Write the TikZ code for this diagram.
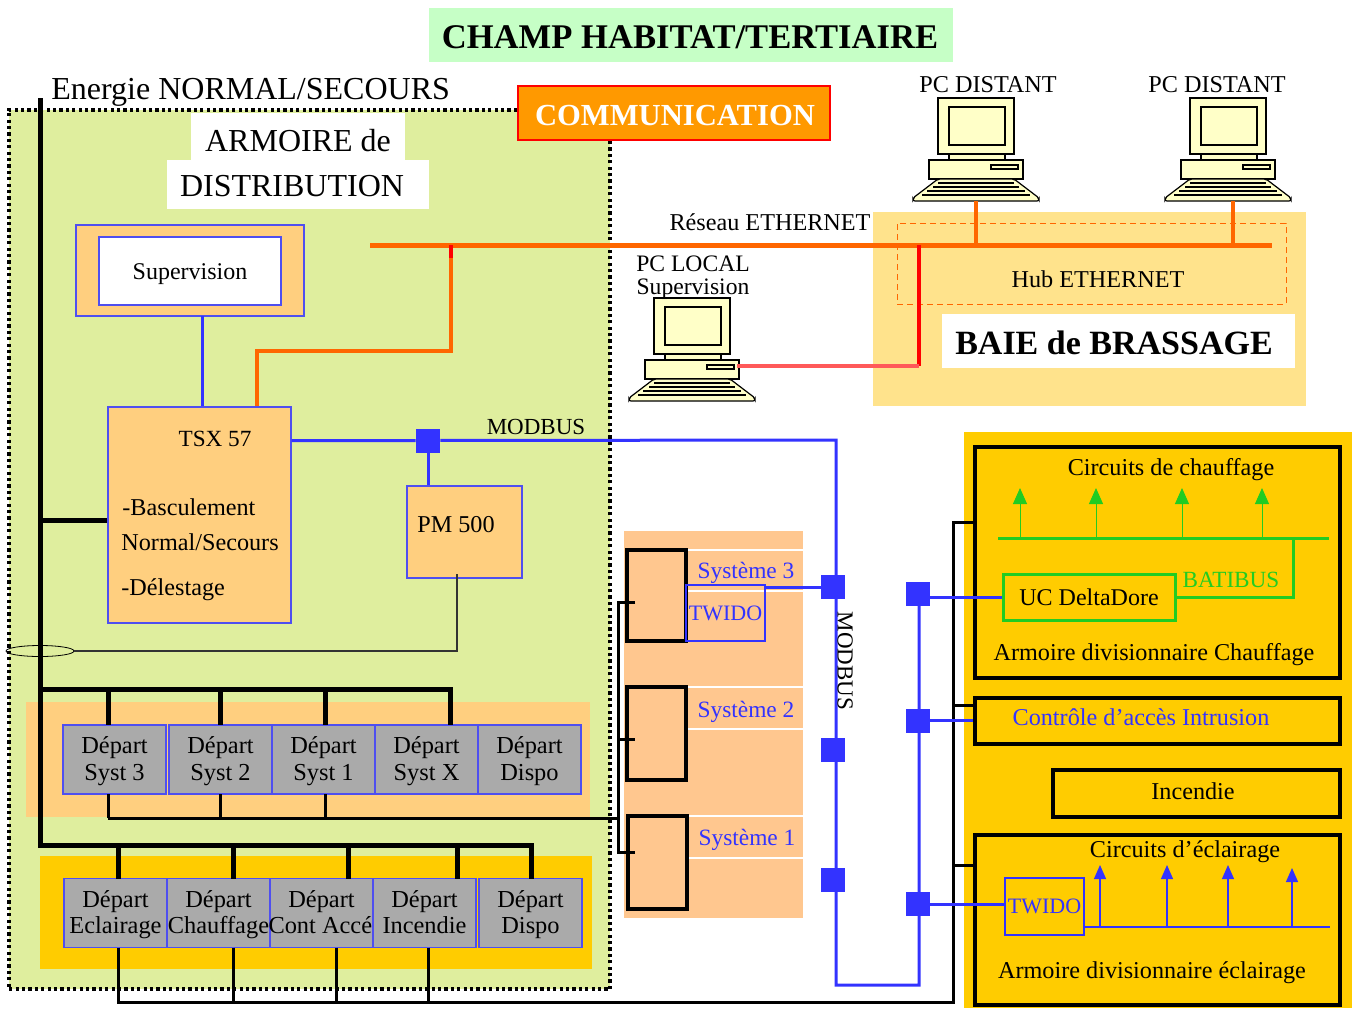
\documentclass[tikz,border=0pt]{standalone}
\usepackage{fontspec}
\setmainfont{Liberation Serif}
\usepackage{xcolor}
\usetikzlibrary{arrows.meta,positioning,shapes.geometric}
\definecolor{vertzone}{HTML}{DFEE9E}
\definecolor{vertitre}{HTML}{C6FFC6}
\definecolor{orclair}{HTML}{FFCF7F}
\definecolor{orfonce}{HTML}{FFCC00}
\definecolor{peche}{HTML}{FFC78F}
\definecolor{baie}{HTML}{FFE38C}
\definecolor{bleu}{HTML}{3333FF}
\definecolor{bleubord}{HTML}{4F4FF0}
\definecolor{orange}{HTML}{FF6600}
\definecolor{comfond}{HTML}{FF9900}
\definecolor{vertbus}{HTML}{22CC22}
\definecolor{gris}{HTML}{AAAAAA}
\definecolor{ecran}{HTML}{FFFFC8}
\newcommand{\fsz}[1]{\fontsize{#1}{#1}\selectfont}
\newcommand{\dep}[1]{\rule{0pt}{10.5pt}Départ\\[1pt]#1\rule[-3pt]{0pt}{3pt}}
\tikzset{
  pc/.pic={
    \draw[fill=ecran, line width=0.6pt] (-38,0) rectangle (38,56);
    \draw[fill=ecran, line width=0.6pt] (-27,9) rectangle (29,47);
    \draw[fill=ecran, line width=0.6pt] (-27,56) rectangle (29,62);
    \draw[fill=ecran, line width=0.6pt] (-47,62) rectangle (47,81);
    \draw[fill=ecran, line width=0.6pt] (15,67) rectangle (42,71);
    \draw[fill=ecran, line width=0.6pt, rounded corners=1pt] (-38,81) -- (38,81) -- (63,100) -- (63,103) -- (-63,103) -- (-63,100) -- cycle;
    \draw[line width=0.8pt] (-38,85) -- (38,85);
    \draw[line width=0.8pt] (-43,89) -- (43,89);
    \draw[line width=0.8pt] (-49,93) -- (49,93);
    \draw[line width=0.8pt] (-54,97) -- (54,97);
    \coordinate (-bas) at (0,103);
    \coordinate (-port) at (45,69);
  }
}
\begin{document}
\begin{tikzpicture}[x=0.5pt, y=-0.5pt,
  zonebox/.style={rectangle, inner sep=0pt},
  depart/.style={rectangle, draw=bleubord, fill=gris, line width=0.6pt, outer sep=0pt, inner sep=0pt, minimum width=51.5pt, minimum height=34.5pt, align=center, font=\fsz{12.2}},
  tbox/.style={rectangle, draw=bleubord, fill=orclair, line width=0.6pt, inner sep=0pt},
  cadre/.style={rectangle, draw=black, line width=2pt, inner sep=0pt},
  sysbox/.style={rectangle, draw=black, line width=2pt, fill=peche, inner sep=0pt, minimum width=29.5pt},
  sq/.style={rectangle, fill=bleu, inner sep=0pt, minimum width=12pt, minimum height=12pt},
  lbl/.style={inner sep=0pt, font=\fsz{12.1}},
  sys/.style={inner sep=0pt, font=\fsz{11.7}, text=bleu},
  power/.style={line width=2.5pt, black},
  feed/.style={line width=1.5pt, black},
  bus/.style={line width=1.5pt, bleu},
  eth/.style={line width=1.75pt, orange},
  green/.style={line width=1.5pt, vertbus},
  arrg/.style={-{Triangle[length=8pt,width=7pt]}, line width=0.5pt, vertbus},
  arrb/.style={-{Triangle[length=7pt,width=6pt]}, line width=0.6pt, bleu},
  dots/.style={line width=2pt, black, dash pattern=on 1.6pt off 1.6pt}
]
\useasboundingbox (0,0) rectangle (1356,1008);
% fonds
\node[zonebox, fill=vertitre, minimum width=262pt, minimum height=27pt] (titre) at (691,35) {};
\node[inner sep=0pt, font=\fsz{17.3}\bfseries] (titret) at (690,37) {CHAMP HABITAT/TERTIAIRE};
\node[zonebox, fill=vertzone, minimum width=300.5pt, minimum height=439.5pt] (zone) at (309.5,549.5) {};
\node[zonebox, fill=white, minimum width=107pt, minimum height=24pt] (arm1) at (298,137) {};
\node[zonebox, fill=white, minimum width=131pt, minimum height=24.5pt] (arm2) at (298,184.5) {};
\node[inner sep=0pt, font=\fsz{16}] (arm1t) at (298,141) {ARMOIRE de};
\node[inner sep=0pt, font=\fsz{16}] (arm2t) at (292,186.5) {DISTRIBUTION};
\node[zonebox, fill=baie, minimum width=216.5pt, minimum height=97pt] (baiefond) at (1089.5,309) {};
\node[zonebox, fill=orclair, minimum width=282pt, minimum height=57.5pt] (bandeA) at (308,759.5) {};
\node[zonebox, fill=orfonce, minimum width=276pt, minimum height=56.5pt] (bandeB) at (316,912.5) {};
\node[zonebox, fill=peche, minimum width=89.5pt, minimum height=193.5pt] (panneau) at (713.5,724.5) {};
\node[zonebox, fill=orfonce, minimum width=194pt, minimum height=288pt] (droite) at (1158,720) {};
% traits blancs du panneau
\coordinate (tw1) at (687,550);
\coordinate (tw2) at (687,591);
\coordinate (tw3) at (687,687);
\coordinate (tw4) at (687,729);
\coordinate (tw5) at (687,816);
\coordinate (tw6) at (687,858);
\draw[white, line width=0.6pt] (tw1) -- (tw1 -| panneau.east);
\draw[white, line width=0.6pt] (tw2) -- (tw2 -| panneau.east);
\draw[white, line width=0.6pt] (tw3) -- (tw3 -| panneau.east);
\draw[white, line width=0.6pt] (tw4) -- (tw4 -| panneau.east);
\draw[white, line width=0.6pt] (tw5) -- (tw5 -| panneau.east);
\draw[white, line width=0.6pt] (tw6) -- (tw6 -| panneau.east);
% armoire
\node[tbox, minimum width=114pt, minimum height=45.5pt] (supfond) at (190,270.5) {};
\node[rectangle, draw=bleubord, fill=white, line width=0.6pt, inner sep=0pt, minimum width=91pt, minimum height=34pt] (sup) at (190,271) {};
\node[inner sep=0pt, font=\fsz{12}] (supt) at (190,274) {Supervision};
\node[tbox, minimum width=91.5pt, minimum height=108pt] (tsx) at (199.5,515) {};
\node[lbl, font=\fsz{11.6}] (tsxt) at (215,439) {TSX 57};
\node[lbl, anchor=west] (tsx1) at (122,507) {-Basculement};
\node[lbl, anchor=west] (tsx2) at (121,542) {Normal/Secours};
\node[lbl, anchor=west] (tsx3) at (121,590) {-Délestage};
\node[tbox, minimum width=57.5pt, minimum height=46pt] (pm) at (464.5,532) {};
\node[lbl] (pmt) at (456,525) {PM 500};
\node[sq] (sqM) at (428,440.5) {};
% energie
\coordinate (en0) at (40,98);
\coordinate (en1) at (40,689);
\coordinate (en2) at (40,845);
\coordinate (en3) at (40,520);
\coordinate (dA1) at (108,689);
\coordinate (dA2) at (220,689);
\coordinate (dA3) at (325,689);
\coordinate (dA4) at (450,689);
\coordinate (dB1) at (118,845);
\coordinate (dB2) at (233,845);
\coordinate (dB3) at (348,845);
\coordinate (dB4) at (457,845);
\coordinate (dB5) at (531,845);
\node[depart] (dep1) at (114.5,759.5) {\dep{Syst 3}};
\node[depart, right=1.5pt of dep1] (dep2) {\dep{Syst 2}};
\node[depart, right=0pt of dep2] (dep3) {\dep{Syst 1}};
\node[depart, right=0pt of dep3] (dep4) {\dep{Syst X}};
\node[depart, right=0pt of dep4] (dep5) {\dep{Dispo}};
\node[depart] (dec1) at (115.5,913) {\dep{Eclairage}};
\node[depart, right=0pt of dec1] (dec2) {\dep{Chauffage}};
\node[depart, right=0pt of dec2] (dec3) {\dep{\makebox[51pt][l]{\hspace{-1pt}Cont Accés}}};
\node[depart, right=0pt of dec3] (dec4) {\dep{Incendie}};
\node[depart, right=1.5pt of dec4] (dec5) {\dep{Dispo}};
\draw[power] (en0) -- (en2) -- (dB5) -- (dB5 |- dec5.north);
\draw[power] (en1) -- (dA4) -- (dA4 |- dep4.north);
\draw[power] (en3) -- (en3 -| tsx.west);
\draw[power] (dA1) -- (dA1 |- dep1.north);
\draw[power] (dA2) -- (dA2 |- dep2.north);
\draw[power] (dA3) -- (dA3 |- dep3.north);
\draw[power] (dB1) -- (dB1 |- dec1.north);
\draw[power] (dB2) -- (dB2 |- dec2.north);
\draw[power] (dB3) -- (dB3 |- dec3.north);
\draw[power] (dB4) -- (dB4 |- dec4.north);
% systemes
\node[sysbox, minimum height=45.5pt] (s3) at (656.5,595.5) {};
\node[sysbox, minimum height=46.5pt] (s2) at (656.5,733.5) {};
\node[sysbox, minimum height=46.5pt] (s1) at (657.5,862.5) {};
\node[sys] (s3t) at (746,573) {Système 3};
\node[sys] (s2t) at (746,711.5) {Système 2};
\node[sys] (s1t) at (747,839.5) {Système 1};
\node[rectangle, draw=bleu, line width=0.7pt, inner sep=0pt, minimum width=39.5pt, minimum height=28pt, font=\fsz{11}, text=bleu] (twA) at (725.5,613) {TWIDO};
\coordinate (sb0) at (618,602);
\coordinate (sb1) at (618,739);
\coordinate (sb2) at (618,818);
\coordinate (sb3) at (618,852);
\coordinate (st0) at (635,602);
\coordinate (st1) at (635,739);
\coordinate (st3) at (635,852);
\coordinate (sA1) at (108,818);
\coordinate (sA2) at (220,818);
\coordinate (sA3) at (325,818);
\draw[feed] (st0) -- (sb0) -- (sb3) -- (st3);
\draw[feed] (sb1) -- (st1);
\draw[feed] (sA1) -- (sb2);
\draw[feed] (dep1.south -| sA1) -- (sA1);
\draw[feed] (dep2.south -| sA2) -- (sA2);
\draw[feed] (dep3.south -| sA3) -- (sA3);
% droite
\node[cadre, minimum width=182.5pt, minimum height=115.5pt] (chauf) at (1157.5,562.5) {};
\node[cadre, minimum width=182.5pt, minimum height=23pt] (ctrl) at (1157.5,721) {};
\node[cadre, minimum width=143.5pt, minimum height=23.5pt] (incend) at (1196.5,793.5) {};
\node[cadre, minimum width=182.5pt, minimum height=85pt] (eclair) at (1157.5,920) {};
\node[lbl] (ct1) at (1171,470) {Circuits de chauffage};
\node[lbl] (ct2) at (1154,655) {Armoire divisionnaire Chauffage};
\node[lbl, text=bleu] (ctt) at (1141,717) {Contrôle d’accès Intrusion};
\node[lbl] (inct) at (1193,791) {Incendie};
\node[lbl] (et1) at (1185,852) {Circuits d’éclairage};
\node[lbl] (et2) at (1152,973) {Armoire divisionnaire éclairage};
\node[rectangle, draw=vertbus, line width=1.5pt, inner sep=0pt, minimum width=86pt, minimum height=23pt, font=\fsz{12}] (ucd) at (1089,597) {UC DeltaDore};
\node[lbl, text=vertbus, font=\fsz{11.6}] (batit) at (1231,580) {BATIBUS};
\node[rectangle, draw=bleu, line width=0.7pt, inner sep=0pt, minimum width=39.5pt, minimum height=28.5pt, font=\fsz{11}, text=bleu] (twB) at (1044.5,906.5) {TWIDO};
\coordinate (gb0) at (998,538);
\coordinate (gb1) at (1329,538);
\coordinate (gb2) at (1293,538);
\coordinate (ga1) at (1020,488);
\coordinate (ga2) at (1096,488);
\coordinate (ga3) at (1182,488);
\coordinate (ga4) at (1262,488);
\draw[green] (gb0) -- (gb1);
\draw[green] (gb2) -- (gb2 |- ucd.east) -- (ucd.east);
\draw[arrg] (ga1 |- gb0) -- (ga1);
\draw[arrg] (ga2 |- gb0) -- (ga2);
\draw[arrg] (ga3 |- gb0) -- (ga3);
\draw[arrg] (ga4 |- gb0) -- (ga4);
\coordinate (bb1) at (1330,927);
\coordinate (ba1) at (1100,865);
\coordinate (ba2) at (1167,865);
\coordinate (ba3) at (1228,865);
\coordinate (ba4) at (1292,868);
\draw[line width=0.7pt, bleu] (bb1 -| twB.east) -- (bb1);
\draw[arrb] (ba1 |- bb1) -- (ba1);
\draw[arrb] (ba2 |- bb1) -- (ba2);
\draw[arrb] (ba3 |- bb1) -- (ba3);
\draw[arrb] (ba4 |- bb1) -- (ba4);
\coordinate (fd0) at (118,1002);
\coordinate (fd1) at (233,1002);
\coordinate (fd2) at (336,1002);
\coordinate (fd3) at (428,1002);
\coordinate (fd4) at (953,1002);
\coordinate (fd5) at (953,522);
\coordinate (fd6) at (953,705);
\coordinate (fd7) at (953,865);
\draw[feed] (dec1.south -| fd0) -- (fd0) -- (fd4) -- (fd5) -- (fd5 -| chauf.west);
\draw[feed] (dec2.south -| fd1) -- (fd1);
\draw[feed] (dec3.south -| fd2) -- (fd2);
\draw[feed] (dec4.south -| fd3) -- (fd3);
\draw[feed] (fd6) -- (fd6 -| ctrl.west);
\draw[feed] (fd7) -- (fd7 -| eclair.west);
% modbus
\node[sq] (sqL3) at (833,587) {};
\node[sq] (sqL2) at (833,749.5) {};
\node[sq] (sqL1) at (833,879.5) {};
\node[sq] (sqR1) at (918,594) {};
\node[sq] (sqR2) at (918,720.5) {};
\node[sq] (sqR3) at (918,904) {};
\coordinate (busA) at (836,440);
\coordinate (busB) at (836,985);
\coordinate (busC) at (919,985);
\coordinate (busS) at (202,316);
\draw[bus] (tsx.east |- sqM) -- (sqM) -- (busA) -- (busB) -- (busC) -- (busC |- sqR1);
\draw[bus] (sqM) -- (sqM |- pm.north);
\draw[bus] (busS) -- (busS |- tsx.north);
\draw[bus] (twA.north east |- sqL3) -- (sqL3);
\draw[bus] (ucd.west -| sqR1) -- (ucd.west);
\draw[bus] (sqR2) -- (sqR2 -| ctrl.west);
\draw[bus] (sqR3) -- (sqR3 -| twB.west);
\node[lbl, font=\fsz{11.5}] (modh) at (536,427) {MODBUS};
\node[lbl, rotate=-90, font=\fsz{11.5}] (modv) at (845,661) {MODBUS};
% delestage
\node[ellipse, draw=black, line width=0.4pt, inner sep=0pt, minimum width=34pt, minimum height=5.5pt] (tore) at (40,651) {};
\coordinate (pmd) at (457,574);
\draw[line width=0.6pt, black!80] (pmd) -- (pmd |- tore.east) -- (tore.east);
% pointilles et communication
\node[rectangle, draw=red, line width=1pt, fill=comfond, minimum width=156pt, minimum height=27pt, inner sep=0pt] (comm) at (674,113) {};
\node[inner sep=0pt, text=white, font=\fsz{15.3}\bfseries] (commt) at (675,116) {COMMUNICATION};
\draw[dots] (zone.north east -| comm.west) -- (zone.north west) -- (zone.south west) -- (zone.south east) -- (zone.east |- comm.south);
% ethernet
\node[rectangle, draw=orange, line width=0.5pt, densely dashed, minimum width=194.5pt, minimum height=40.5pt, inner sep=0pt] (hub) at (1091.5,263.5) {};
\node[lbl] (hubt) at (1098,279) {Hub ETHERNET};
\node[zonebox, fill=white, minimum width=176.5pt, minimum height=27pt] (baiet) at (1118.5,341) {};
\node[inner sep=0pt, font=\fsz{17}\bfseries] (baiex) at (1114,343) {BAIE de BRASSAGE};
\pic (pcA) at (976,98) {pc};
\pic (pcB) at (1228,98) {pc};
\pic (pcC) at (692,298) {pc};
\node[lbl] (pcAt) at (988,85) {PC DISTANT};
\node[lbl] (pcBt) at (1217,85) {PC DISTANT};
\node[lbl, align=center, font=\fontsize{11.8}{11.5}\selectfont] (pcCt) at (693,278) {PC LOCAL\\Supervision};
\node[lbl] (rest) at (770,222) {Réseau ETHERNET};
\coordinate (et0) at (370,245);
\coordinate (et1) at (1272,245);
\coordinate (et2) at (451,245);
\coordinate (et3) at (451,351);
\coordinate (et4) at (257,351);
\coordinate (et5) at (919,245);
\coordinate (et6) at (919,366);
\coordinate (et7) at (451,258);
\coordinate (et8) at (1233,245);
\draw[line width=2.5pt, orange] (et0) -- (et1);
\draw[eth] (et7) -- (et3) -- (et4) -- (et4 |- tsx.north);
\draw[line width=1.75pt, red] (et2) -- (et7);
\draw[line width=1.75pt, red] (et5) -- (et6);
\draw[line width=1.75pt, red!65!white] (et6) -- (et6 -| pcC-port);
\draw[eth] (pcA-bas) -- (pcA-bas |- et1);
\draw[eth] (et8 |- pcB-bas) -- (et8);
\node[inner sep=0pt, font=\fsz{16}, anchor=west] (ener) at (51,92) {Energie NORMAL/SECOURS};
\end{tikzpicture}
\end{document}
